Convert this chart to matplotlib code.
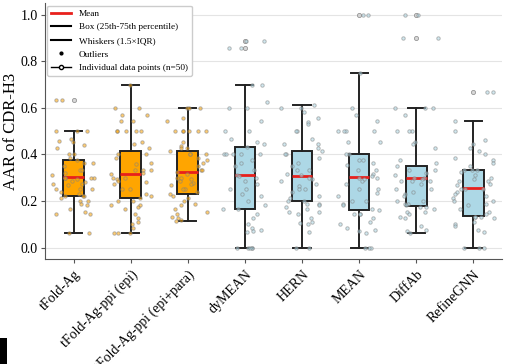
import matplotlib.pyplot as plt
import numpy as np
from matplotlib.lines import Line2D
from matplotlib.patches import Rectangle

plt.rcParams["font.family"] = ["Liberation Serif", "DejaVu Serif"]

methods = ["tFold-Ag", "tFold-Ag-ppi (epi)", "tFold-Ag-ppi (epi+para)",
           "dyMEAN", "HERN", "MEAN", "DiffAb", "RefineGNN"]
box_colors = ["orange", "orange", "orange",
              "lightblue", "lightblue", "lightblue", "lightblue", "lightblue"]

# box statistics
medians = [0.303, 0.318, 0.325, 0.310, 0.309, 0.302, 0.297, 0.255]
q1 = [0.220, 0.213, 0.232, 0.167, 0.200, 0.160, 0.180, 0.134]
q3 = [0.375, 0.415, 0.415, 0.432, 0.415, 0.400, 0.352, 0.332]
whisk_lo = [0.0625, 0.0625, 0.114, 0.0, 0.0, 0.0, 0.0625, 0.0]
whisk_hi = [0.500, 0.700, 0.600, 0.700, 0.614, 0.750, 0.600, 0.545]
outliers = [[0.636], [], [], [0.889, 0.857], [], [1.0], [1.0, 0.9], [0.667]]

# individual AAR values (50 per method)
aar_tfold = [0.636, 0.636, 0.5, 0.5, 0.5, 0.467, 0.455, 0.46, 0.44, 0.43,
             0.4, 0.4, 0.385, 0.375, 0.364, 0.364, 0.35, 0.333, 0.333, 0.32,
             0.31, 0.3, 0.3, 0.3, 0.3, 0.294, 0.286, 0.28, 0.273, 0.273,
             0.267, 0.25, 0.25, 0.25, 0.238, 0.231, 0.222, 0.222, 0.222, 0.214,
             0.2, 0.2, 0.188, 0.182, 0.167, 0.154, 0.143, 0.143, 0.0625, 0.0625]
aar_ppi_epi = [0.7, 0.6, 0.6, 0.571, 0.571, 0.545, 0.545, 0.5, 0.5, 0.5,
               0.5, 0.5, 0.455, 0.444, 0.429, 0.4, 0.4, 0.385, 0.364, 0.357,
               0.333, 0.333, 0.333, 0.32, 0.318, 0.3, 0.3, 0.294, 0.286, 0.28,
               0.273, 0.25, 0.25, 0.231, 0.222, 0.214, 0.2, 0.2, 0.182, 0.182,
               0.176, 0.167, 0.143, 0.125, 0.111, 0.1, 0.083, 0.0625, 0.0625, 0.0625]
aar_ppi_epi_para = [0.6, 0.6, 0.6, 0.556, 0.545, 0.5, 0.5, 0.5, 0.5, 0.5,
                    0.5, 0.455, 0.438, 0.429, 0.429, 0.417, 0.4, 0.4, 0.4, 0.385,
                    0.375, 0.364, 0.35, 0.333, 0.333, 0.325, 0.316, 0.3, 0.3, 0.294,
                    0.286, 0.278, 0.273, 0.267, 0.25, 0.25, 0.238, 0.231, 0.222, 0.214,
                    0.2, 0.188, 0.182, 0.167, 0.154, 0.143, 0.133, 0.125, 0.118, 0.114]
aar_dymean = [0.889, 0.889, 0.857, 0.857, 0.7, 0.7, 0.625, 0.6, 0.6, 0.545,
              0.5, 0.5, 0.467, 0.455, 0.444, 0.433, 0.4, 0.4, 0.4, 0.4,
              0.4, 0.375, 0.364, 0.35, 0.333, 0.313, 0.308, 0.3, 0.286, 0.273,
              0.25, 0.25, 0.231, 0.222, 0.2, 0.182, 0.167, 0.167, 0.143, 0.125,
              0.1, 0.083, 0.077, 0.071, 0.067, 0.0, 0.0, 0.0, 0.0, 0.0]
aar_hern = [0.614, 0.6, 0.6, 0.583, 0.556, 0.538, 0.529, 0.5, 0.5, 0.467,
            0.444, 0.444, 0.429, 0.417, 0.4, 0.4, 0.385, 0.364, 0.35, 0.333,
            0.333, 0.318, 0.31, 0.3, 0.294, 0.286, 0.273, 0.263, 0.25, 0.25,
            0.238, 0.222, 0.214, 0.2, 0.2, 0.188, 0.188, 0.182, 0.176, 0.167,
            0.154, 0.154, 0.143, 0.125, 0.111, 0.105, 0.1, 0.067, 0.0, 0.0]
aar_mean = [1.0, 1.0, 0.75, 0.6, 0.571, 0.545, 0.5, 0.5, 0.5, 0.5,
            0.455, 0.455, 0.4, 0.4, 0.375, 0.375, 0.364, 0.353, 0.333, 0.333,
            0.316, 0.308, 0.3, 0.3, 0.294, 0.286, 0.273, 0.25, 0.25, 0.235,
            0.222, 0.2, 0.2, 0.188, 0.182, 0.167, 0.16, 0.143, 0.143, 0.143,
            0.125, 0.111, 0.1, 0.083, 0.077, 0.071, 0.0625, 0.0, 0.0, 0.0]
aar_diffab = [1.0, 1.0, 0.9, 0.9, 0.6, 0.6, 0.6, 0.571, 0.5, 0.5,
              0.5, 0.455, 0.444, 0.429, 0.375, 0.364, 0.35, 0.333, 0.333, 0.32,
              0.31, 0.3, 0.3, 0.294, 0.286, 0.286, 0.286, 0.273, 0.25, 0.25,
              0.238, 0.231, 0.222, 0.2, 0.2, 0.188, 0.188, 0.182, 0.176, 0.176,
              0.167, 0.154, 0.154, 0.143, 0.133, 0.125, 0.091, 0.077, 0.071, 0.0625]
aar_refinegnn = [0.667, 0.667, 0.545, 0.5, 0.462, 0.444, 0.429, 0.417, 0.4, 0.385,
                 0.375, 0.364, 0.35, 0.333, 0.333, 0.333, 0.323, 0.313, 0.3, 0.294,
                 0.286, 0.286, 0.273, 0.267, 0.25, 0.25, 0.25, 0.238, 0.231, 0.222,
                 0.214, 0.2, 0.2, 0.188, 0.182, 0.167, 0.154, 0.143, 0.133, 0.133,
                 0.133, 0.125, 0.111, 0.1, 0.091, 0.077, 0.067, 0.0, 0.0, 0.0]
points = [aar_tfold, aar_ppi_epi, aar_ppi_epi_para, aar_dymean,
          aar_hern, aar_mean, aar_diffab, aar_refinegnn]

fig = plt.figure(figsize=(5.05, 3.64), dpi=100)
ax = fig.add_axes([0.089, 0.288, 0.905, 0.703])

stats = [
    {"med": m, "q1": a, "q3": b, "whislo": lo, "whishi": hi, "fliers": f}
    for m, a, b, lo, hi, f in zip(medians, q1, q3, whisk_lo, whisk_hi, outliers)
]
positions = np.arange(1, len(methods) + 1)
bp = ax.bxp(
    stats, positions=positions, widths=0.36, patch_artist=True,
    capwidths=0.3,
    boxprops=dict(edgecolor="#222222", linewidth=1.4),
    whiskerprops=dict(color="#222222", linewidth=1.4),
    capprops=dict(color="#222222", linewidth=1.4),
    medianprops=dict(color="#e8201c", linewidth=2),
    flierprops=dict(marker="o", markersize=3, markerfacecolor="#cfcfcf",
                    markeredgecolor="gray", markeredgewidth=0.6, alpha=0.8),
)
for patch, c in zip(bp["boxes"], box_colors):
    patch.set_facecolor(c)
    patch.set_zorder(2)

rng = np.random.default_rng(3)
for pos, vals, c in zip(positions, points, box_colors):
    x = pos + rng.uniform(-0.38, 0.38, len(vals))
    ax.scatter(x, vals, s=6, facecolor=c, edgecolor="gray",
               linewidth=0.7, alpha=0.55, zorder=3)

ax.set_xlim(0.5, 8.5)
ax.set_ylim(-0.05, 1.05)
ax.set_xticks(positions)
ax.set_xticklabels(methods, rotation=45, ha="right", rotation_mode="anchor",
                   fontsize=10)
ax.set_yticks([0.0, 0.2, 0.4, 0.6, 0.8, 1.0])
ax.set_yticklabels(["0.0", "0.2", "0.4", "0.6", "0.8", "1.0"], fontsize=10)
ax.set_ylabel("AAR of CDR-H3", fontsize=12, labelpad=1.5)
ax.yaxis.grid(True, color="#e4e4e4", linewidth=0.8)
ax.set_axisbelow(True)
for s in ["top", "right"]:
    ax.spines[s].set_visible(False)
for s in ["left", "bottom"]:
    ax.spines[s].set_color("#555555")
ax.tick_params(length=3, color="#555555")
ax.tick_params(axis="y", pad=2)

handles = [
    Line2D([0], [0], color="#e8201c", lw=2),
    Line2D([0], [0], color="black", lw=1.5),
    Line2D([0], [0], color="black", lw=1.5),
    Line2D([0], [0], color="black", marker=".", markersize=4, linestyle="none"),
    Line2D([0], [0], color="black", lw=1, marker="o", markersize=3,
           markerfacecolor="white"),
]
labels = ["Mean", "Box (25th-75th percentile)", "Whiskers (1.5\u00d7IQR)",
          "Outliers", "Individual data points (n=50)"]
ax.legend(handles, labels, loc="upper left", fontsize=6.7, frameon=True,
          framealpha=1, edgecolor="#cccccc", borderaxespad=0.25,
          handlelength=2.2, labelspacing=0.55)

fig.patches.append(Rectangle((0, 0), 7 / 505, 26 / 364, transform=fig.transFigure,
                             facecolor="black", edgecolor="none"))

fig.savefig("out.png", dpi=100)
